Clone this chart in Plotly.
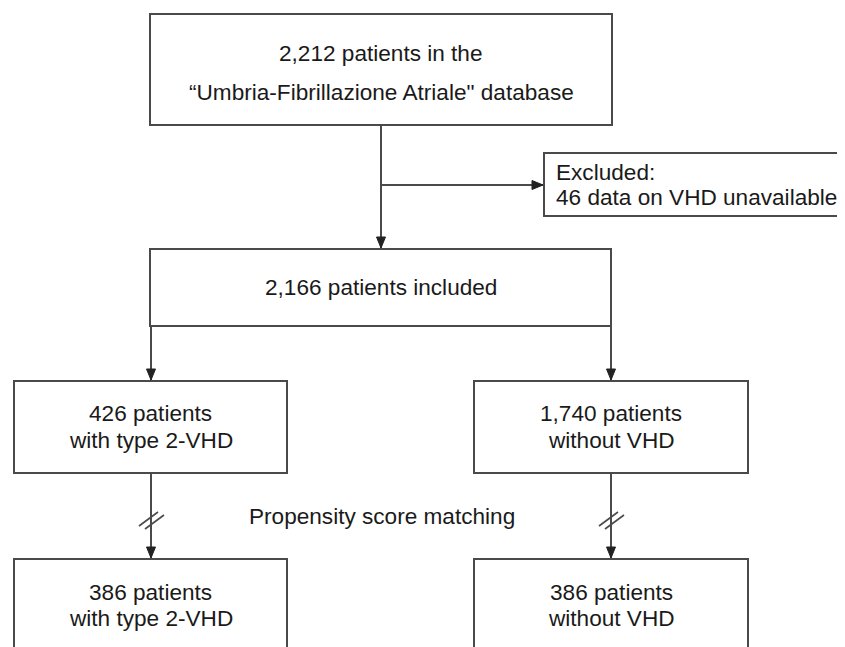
import plotly.graph_objects as go

# ---- flowchart content (values) ----
db_total = 2212
db_name = "Umbria-Fibrillazione Atriale"
excluded_n = 46
included_n = 2166
vhd_n = 426
no_vhd_n = 1740
matched_vhd_n = 386
matched_no_vhd_n = 386
matching_label = "Propensity score matching"

top_lines = [f"{db_total:,} patients in the", f"\u201c{db_name}\" database"]
excl_lines = ["Excluded:", f"{excluded_n} data on VHD unavailable"]
incl_lines = [f"{included_n:,} patients included"]
vhd_lines = [f"{vhd_n:,} patients", "with type 2-VHD"]
novhd_lines = [f"{no_vhd_n:,} patients", "without VHD"]
mvhd_lines = [f"{matched_vhd_n:,} patients", "with type 2-VHD"]
mnovhd_lines = [f"{matched_no_vhd_n:,} patients", "without VHD"]

# ---- geometry (layout only, page-pixel-like data coordinates) ----
W, H = 845, 647
OFF = 8  # page body margin: shift axis ranges so data coords == page pixels
LINE = "#4a4a4a"
HEAD = "#222222"
TXT = "#1a1a1a"
FONT = "Liberation Sans, Arial, Helvetica, sans-serif"
FS = 22.6

boxes = [
    # x0, x1, y0, y1, lines, line y positions, align
    (150, 612, 14, 125, top_lines, [53, 92], "center"),
    (544, 838, 153, 216, excl_lines, [172, 197], "left"),
    (150, 611, 249, 326, incl_lines, [287], "center"),
    (14, 287, 381, 473, vhd_lines, [413, 440], "center"),
    (474, 748, 381, 473, novhd_lines, [413, 440], "center"),
    (14, 287, 559, 700, mvhd_lines, [592, 618], "center"),
    (474, 748, 559, 700, mnovhd_lines, [592, 618], "center"),
]

shapes = []
annotations = []

for x0, x1, y0, y1, lines, ys, align in boxes:
    shapes.append(dict(type="rect", xref="x", yref="y", x0=x0, x1=x1, y0=y0, y1=y1,
                       line=dict(color=LINE, width=2), fillcolor="rgba(0,0,0,0)"))
    for t, yy in zip(lines, ys):
        if align == "center":
            annotations.append(dict(x=(x0 + x1) / 2, y=yy, xref="x", yref="y", text=t,
                                    showarrow=False, xanchor="center", yanchor="middle",
                                    font=dict(family=FONT, size=FS, color=TXT)))
        else:
            annotations.append(dict(x=x0 + 10, y=yy, xref="x", yref="y", text=t,
                                    showarrow=False, xanchor="left", yanchor="middle",
                                    font=dict(family=FONT, size=FS, color=TXT)))


def vline(x, y0, y1):
    shapes.append(dict(type="line", xref="x", yref="y", x0=x, x1=x, y0=y0, y1=y1,
                       line=dict(color=LINE, width=2)))


def hline(y, x0, x1):
    shapes.append(dict(type="line", xref="x", yref="y", x0=x0, x1=x1, y0=y, y1=y,
                       line=dict(color=LINE, width=2)))


def head_down(x, y):
    shapes.append(dict(type="path", xref="x", yref="y",
                       path=f"M {x-4.5},{y-11} L {x+4.5},{y-11} L {x},{y} Z",
                       fillcolor=HEAD, line=dict(color=HEAD, width=1)))


def head_right(x, y):
    shapes.append(dict(type="path", xref="x", yref="y",
                       path=f"M {x-11},{y-4.5} L {x-11},{y+4.5} L {x},{y} Z",
                       fillcolor=HEAD, line=dict(color=HEAD, width=1)))


def break_mark(x, yc):
    for dx, dy in [(-3, 0), (3, 3)]:
        shapes.append(dict(type="line", xref="x", yref="y",
                           x0=x - 10 + dx, y0=yc + 7 + dy, x1=x + 9 + dx, y1=yc - 7 + dy,
                           line=dict(color=LINE, width=1.6)))


# top -> included, with exclusion branch
vline(381, 125, 248)
head_down(381, 248)
hline(185, 381, 543)
head_right(543, 185)

# included -> two groups
vline(151, 326, 380)
head_down(151, 380)
vline(611, 326, 380)
head_down(611, 380)

# groups -> matched groups
vline(151, 473, 558)
head_down(151, 558)
vline(611, 473, 558)
head_down(611, 558)
break_mark(152, 519)
break_mark(612, 519)

annotations.append(dict(x=382, y=516, xref="x", yref="y", text=matching_label,
                        showarrow=False, xanchor="center", yanchor="middle",
                        font=dict(family=FONT, size=FS, color=TXT)))

fig = go.Figure()
fig.update_layout(
    width=W, height=H,
    margin=dict(l=0, r=0, t=0, b=0),
    paper_bgcolor="white", plot_bgcolor="white",
    xaxis=dict(range=[OFF, W + OFF], visible=False, fixedrange=True),
    yaxis=dict(range=[H + OFF, OFF], visible=False, fixedrange=True),
    shapes=shapes, annotations=annotations, showlegend=False,
)
fig.write_html("out.html", config={"displayModeBar": False})
